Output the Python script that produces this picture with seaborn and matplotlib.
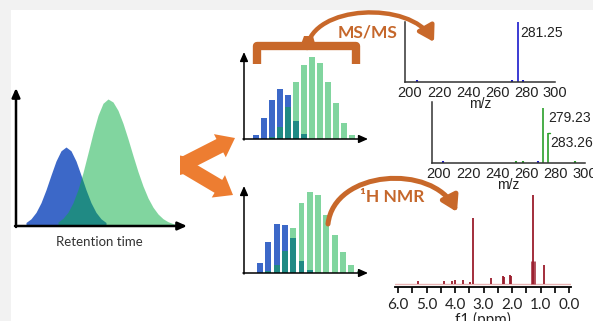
import matplotlib
matplotlib.use("Agg")
import matplotlib.pyplot as plt
import seaborn as sns
from matplotlib.patches import Rectangle, FancyArrow, FancyArrowPatch, Polygon
from matplotlib.path import Path

# ---- data ----
# chromatogram (retention time units, signal)
rt_blue = [1.0, 1.5, 2.0, 2.5, 3.0, 3.5, 4.0, 4.5, 5.0, 5.5, 6.0, 6.5, 7.0, 7.5, 8.0, 8.5, 9.0]
sig_blue = [3.5, 7.2, 13.6, 23.3, 36.2, 50.9, 65.0, 75.2, 79.0, 75.2, 65.0, 50.9, 36.2, 23.3, 13.6, 7.2, 3.5]
rt_green = [4.2, 4.7, 5.2, 5.7, 6.2, 6.7, 7.2, 7.7, 8.2, 8.7, 9.2, 9.7, 10.2, 10.7, 11.2,
            11.7, 12.2, 12.7, 13.2, 13.7, 14.2, 14.7, 15.2, 15.7, 16.2]
sig_green = [4.0, 7.7, 13.8, 23.3, 36.5, 53.4, 73.0, 93.0, 110.6, 122.7, 127.0, 124.0, 115.6,
             102.7, 87.1, 70.4, 54.3, 40.0, 28.0, 18.8, 12.0, 7.3, 4.3, 2.4, 1.2]

# collected fractions (MS/MS branch)
frac_ms = list(range(14))
frac_ms_blue = [4, 21, 39, 50, 44, 18, 5, 0, 0, 0, 0, 0, 0, 0]
frac_ms_green = [0, 0, 2, 12, 32, 57, 74, 82, 76, 57, 36, 16, 4, 0]

# collected fractions (NMR branch)
frac_nmr = list(range(13))
frac_nmr_blue = [10, 31, 49, 48, 35, 12, 3, 0, 0, 0, 0, 0, 0]
frac_nmr_green = [0, 2, 8, 22, 45, 70, 81, 78, 58, 38, 21, 8, 2]

# MS/MS spectra
ms_ticks = [200, 220, 240, 260, 280, 300]
ms1_mz = [274.5]
ms1_int = [1.0]
ms1_minor_mz = [204.6, 270.0, 278.0]
ms1_minor_int = [0.03, 0.03, 0.03]
ms1_label = "281.25"
ms2_mz = [271.2, 274.7]
ms2_int = [0.90, 0.49]
ms2_minor_mz = [253.0, 257.5, 293.0]
ms2_minor_int = [0.03, 0.03, 0.03]
ms2_minor_blue_mz = [202.7, 268.0]
ms2_minor_blue_int = [0.03, 0.03]
ms2_labels = ["279.23", "283.26"]

# 1H NMR
nmr_ticks = [6.0, 5.0, 4.0, 3.0, 2.0, 1.0, 0.0]
nmr_minor = [5.5, 4.5, 3.5, 2.5, 1.5, 0.5]
nmr_ppm = [5.30, 4.37, 4.11, 3.99, 3.72, 3.48, 3.36, 2.75, 2.30, 2.27, 2.06, 2.02, 1.25, 0.87]
nmr_int = [2.5, 3.0, 2.5, 3.5, 3.5, 1.5, 65.5, 5.5, 7.5, 7.0, 8.5, 7.5, 88.5, 18.5]
nmr_broad_ppm = [1.28]
nmr_broad_int = [23.0]

# ---- style ----
sns.set_theme(style="white")
plt.rcParams['font.family'] = ['Lato', 'DejaVu Sans']

c_blue = '#3c68c8'
c_green = '#05ad41'
c_orange = '#ed7d31'
c_dark_orange = '#c8682a'
c_nmr = '#9b1c2c'

W, H = 593, 321
fig = plt.figure(figsize=(W / 100, H / 100), dpi=100, facecolor='#f2f2f2')
fig.patches.append(Rectangle((11 / W, 0), 1, 1 - 10 / H, transform=fig.transFigure,
                             facecolor='white', edgecolor='none', zorder=-1))


def px_axes(x0, y0, x1, y1):
    ax = fig.add_axes([x0 / W, 1 - y1 / H, (x1 - x0) / W, (y1 - y0) / H])
    ax.patch.set_alpha(0)
    return ax


# chromatogram
ax = px_axes(16, 90, 186, 226)
ax.fill_between(rt_blue, sig_blue, color=c_blue, lw=0)
ax.fill_between(rt_green, sig_green, color=c_green, alpha=0.5, lw=0)
ax.set_xlim(0, 17)
ax.set_ylim(0, 136)
ax.axis('off')


# fraction panels
def frac_panel(x0, y0, x1, y1, pos, blue, green, first_px, step_px):
    ax = px_axes(x0, y0, x1, y1)
    sns.barplot(x=pos, y=blue, color=c_blue, width=0.72, saturation=1, linewidth=0, ax=ax)
    sns.barplot(x=pos, y=green, color=c_green, alpha=0.5, width=0.72, saturation=1,
                linewidth=0, ax=ax)
    ax.set_xlim((x0 - first_px) / step_px, (x1 - first_px) / step_px)
    ax.set_ylim(0, y1 - y0)
    ax.axis('off')


frac_panel(244, 53, 367, 139, frac_ms, frac_ms_blue, frac_ms_green, 256, 8.0)
frac_panel(244, 187, 367, 273, frac_nmr, frac_nmr_blue, frac_nmr_green, 260, 8.3)


# MS/MS spectra
def ms_axes(x0, y0, x1, y1, lo, hi):
    ax = px_axes(x0, y0, x1, y1)
    ax.set_xlim(lo, hi)
    ax.set_ylim(0, 1)
    for s in ['top', 'right']:
        ax.spines[s].set_visible(False)
    for s in ['left', 'bottom']:
        ax.spines[s].set_color('#333333')
        ax.spines[s].set_linewidth(1.1)
    ax.set_yticks([])
    ax.set_xticks(ms_ticks)
    ax.tick_params(axis='x', length=0, pad=3, labelsize=10.5, labelcolor='#222222')
    for t in ax.get_xticklabels():
        t.set_family('Liberation Sans')
    ax.set_xlabel('m/z', fontsize=10, labelpad=-2, family='Liberation Sans', color='#222222')
    return ax


ax = ms_axes(405, 22, 555, 82, 196.55, 300)
ax.vlines(ms1_mz, 0, ms1_int, color='#1a1acc', lw=1.2)
ax.vlines(ms1_minor_mz, 0, ms1_minor_int, color='#1a1acc', lw=1.5)
ax.text(ms1_mz[0] + 1.5, 0.82, ms1_label, fontsize=10, family='Liberation Sans',
        color='#222222', va='center')

ax = ms_axes(432, 102, 585, 163, 195.2, 300)
ax.vlines(ms2_mz, 0, ms2_int, color='#2aa02a', lw=1.2)
ax.vlines(ms2_minor_mz, 0, ms2_minor_int, color='#2aa02a', lw=1.5)
ax.vlines(ms2_minor_blue_mz, 0, ms2_minor_blue_int, color='#1a1acc', lw=1.5)
ax.plot([ms2_mz[1], ms2_mz[1] + 1.5], [ms2_int[1], ms2_int[1]], color='#2aa02a', lw=1)
ax.text(ms2_mz[0] + 3.5, 0.74, ms2_labels[0], fontsize=10, family='Liberation Sans',
        color='#222222', va='center', clip_on=False)
ax.text(ms2_mz[1] + 1.8, 0.33, ms2_labels[1], fontsize=10, family='Liberation Sans',
        color='#222222', va='center', clip_on=False)

# 1H NMR
ax = px_axes(395, 190, 571, 287)
ax.set_xlim(6.106, -0.07)
ax.set_ylim(-3.5, 93.5)
ax.axhline(0, color='#e8b4b4', lw=1)
ax.vlines(nmr_broad_ppm, 0, nmr_broad_int, color=c_nmr, lw=3.5, alpha=0.8)
ax.vlines(nmr_ppm, 0, nmr_int, color=c_nmr, lw=1.3)
for s in ['top', 'right', 'left']:
    ax.spines[s].set_visible(False)
ax.spines['bottom'].set_color('black')
ax.spines['bottom'].set_linewidth(1.3)
ax.set_yticks([])
ax.set_xticks(nmr_ticks)
ax.set_xticks(nmr_minor, minor=True)
ax.set_xticklabels([f'{v:.1f}' for v in nmr_ticks])
ax.tick_params(axis='x', which='both', direction='out', bottom=True, length=4, width=1.2,
               color='black', pad=4, labelsize=11, labelcolor='#222222')
ax.set_xlabel('f1 (ppm)', fontsize=11, labelpad=0, color='#222222')

# ---- overlay: arrows, chevron, bracket, captions ----
ov = px_axes(0, 0, W, H)
ov.set_xlim(0, W)
ov.set_ylim(H, 0)
ov.axis('off')


def axis_arrow(x0, y0, x1, y1, lw):
    ov.annotate('', xy=(x1, y1), xytext=(x0, y0),
                arrowprops=dict(arrowstyle='-|>,head_length=0.45,head_width=0.2',
                                lw=lw, color='black', shrinkA=0, shrinkB=0))


axis_arrow(16, 227, 16, 88, 1.8)
axis_arrow(15, 226, 187, 226, 1.8)
axis_arrow(244, 140, 244, 52, 1.1)
axis_arrow(243, 139, 368, 139, 1.1)
axis_arrow(244, 274, 244, 186, 1.1)
axis_arrow(243, 273, 368, 273, 1.1)

ov.text(99, 242, 'Retention time', ha='center', va='center', fontsize=9.5, color='#333333')

# chevron
ov.add_patch(FancyArrow(184, 164, 51, -26, width=15, head_width=26, head_length=17,
                        length_includes_head=True, color=c_orange, lw=0))
ov.add_patch(FancyArrow(184, 166, 49, 29, width=15, head_width=26, head_length=17,
                        length_includes_head=True, color=c_orange, lw=0))
ov.add_patch(Polygon([(180, 155.5), (187, 157), (197, 165), (187, 173), (180, 175)],
                     closed=True, color=c_orange, lw=0))

# bracket + MS/MS arrow
ov.plot([257, 257, 356, 356], [64, 46, 46, 64], color=c_dark_orange, lw=6,
        solid_joinstyle='round', solid_capstyle='butt')
ov.add_patch(Polygon([(300, 47), (316, 47), (313, 36), (304, 36)], closed=True,
                     color=c_dark_orange, lw=0))
arc = Path([(307, 48), (312, 5), (410, 0), (434, 42)],
           [Path.MOVETO, Path.CURVE4, Path.CURVE4, Path.CURVE4])
ov.add_patch(FancyArrowPatch(path=arc, arrowstyle='-|>,head_length=0.9,head_width=0.55',
                             mutation_scale=10, color=c_dark_orange, lw=3.2))
ov.text(368, 32, 'MS/MS', ha='center', va='center', fontsize=12.5, fontweight='bold',
        color='#c5672b')

# NMR arrow
arc = Path([(328, 224), (334, 170), (432, 163), (457, 212)],
           [Path.MOVETO, Path.CURVE4, Path.CURVE4, Path.CURVE4])
ov.add_patch(FancyArrowPatch(path=arc, arrowstyle='-|>,head_length=0.9,head_width=0.55',
                             mutation_scale=10, color=c_dark_orange, lw=3.6))
ov.text(392, 197, '¹H NMR', ha='center', va='center', fontsize=12.5, fontweight='bold',
        color='#c5672b')

fig.savefig('out.png', dpi=100, facecolor=fig.get_facecolor())
